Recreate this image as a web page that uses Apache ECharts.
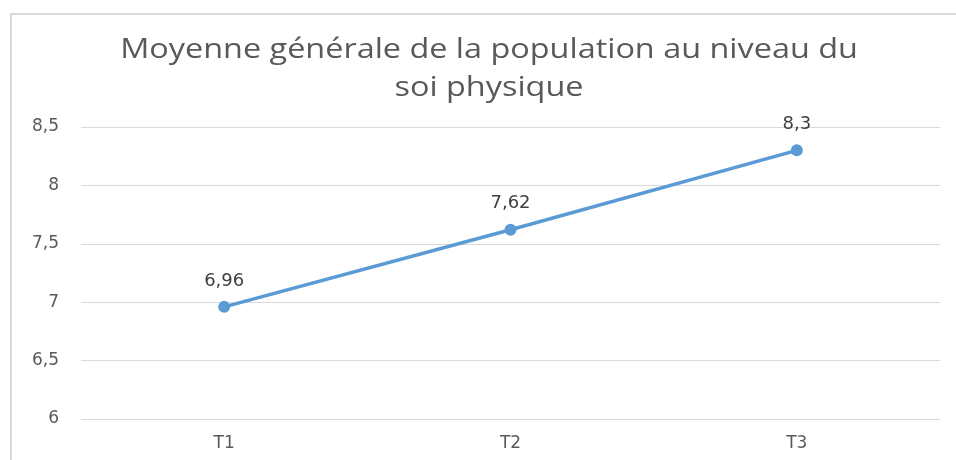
<!DOCTYPE html>
<html>
<head>
<meta charset="utf-8">
<script src="https://cdn.jsdelivr.net/npm/echarts@6/dist/echarts.min.js"></script>
<style>
  html, body { margin: 0; padding: 0; background: #fff; }
  #frame { position: absolute; left: 10px; top: 13px; width: 946px; height: 447px;
           border-left: 2px solid #d9d9d9; border-top: 2px solid #d9d9d9; box-sizing: border-box; }
  #chart { position: absolute; left: 0; top: 0; width: 956px; height: 460px; }
</style>
</head>
<body>
<div id="frame"></div>
<div id="chart"></div>
<script>
// Survey rounds and the population's mean physical self-score
const categories = ['T1', 'T2', 'T3'];
const moyenne = [6.96, 7.62, 8.3];
const titleText = 'Moyenne générale de la population au niveau du\nsoi physique';

const fmt = v => String(v).replace('.', ',');
const titleFont = '"Open Sans", "Liberation Sans", sans-serif';
const labelFont = '"DejaVu Sans", "Open Sans", sans-serif';

const chart = echarts.init(document.getElementById('chart'));
chart.setOption({
  backgroundColor: 'transparent',
  animation: false,
  graphic: [{
    // wide, centred two-line heading
    type: 'text',
    x: 489,
    y: 31,
    scaleX: 1.2,
    style: {
      text: titleText,
      textAlign: 'center',
      textVerticalAlign: 'top',
      font: '27px ' + titleFont,
      lineHeight: 38,
      fill: '#595959'
    }
  }],
  grid: { left: 81, right: 16, top: 127, bottom: 41 },
  xAxis: {
    type: 'category',
    data: categories,
    boundaryGap: true,
    axisLine: { show: false },
    axisTick: { show: false },
    axisLabel: { fontFamily: labelFont, fontSize: 17, color: '#595959', margin: 16 }
  },
  yAxis: {
    type: 'value',
    min: 6,
    max: 8.5,
    interval: 0.5,
    axisLine: { show: false },
    axisTick: { show: false },
    splitLine: { lineStyle: { color: '#d9d9d9', width: 1 } },
    axisLabel: { fontFamily: labelFont, fontSize: 17, color: '#595959', margin: 22,
                 padding: [5, 0, 0, 0], formatter: fmt }
  },
  series: [{
    type: 'line',
    data: moyenne,
    symbol: 'circle',
    symbolSize: 12,
    lineStyle: { color: '#5b9bd5', width: 3.5 },
    itemStyle: { color: '#5b9bd5' },
    label: {
      show: true,
      position: 'top',
      distance: 11,
      fontFamily: labelFont,
      fontSize: 18,
      color: '#404040',
      formatter: p => fmt(p.value)
    }
  }]
});
</script>
</body>
</html>
